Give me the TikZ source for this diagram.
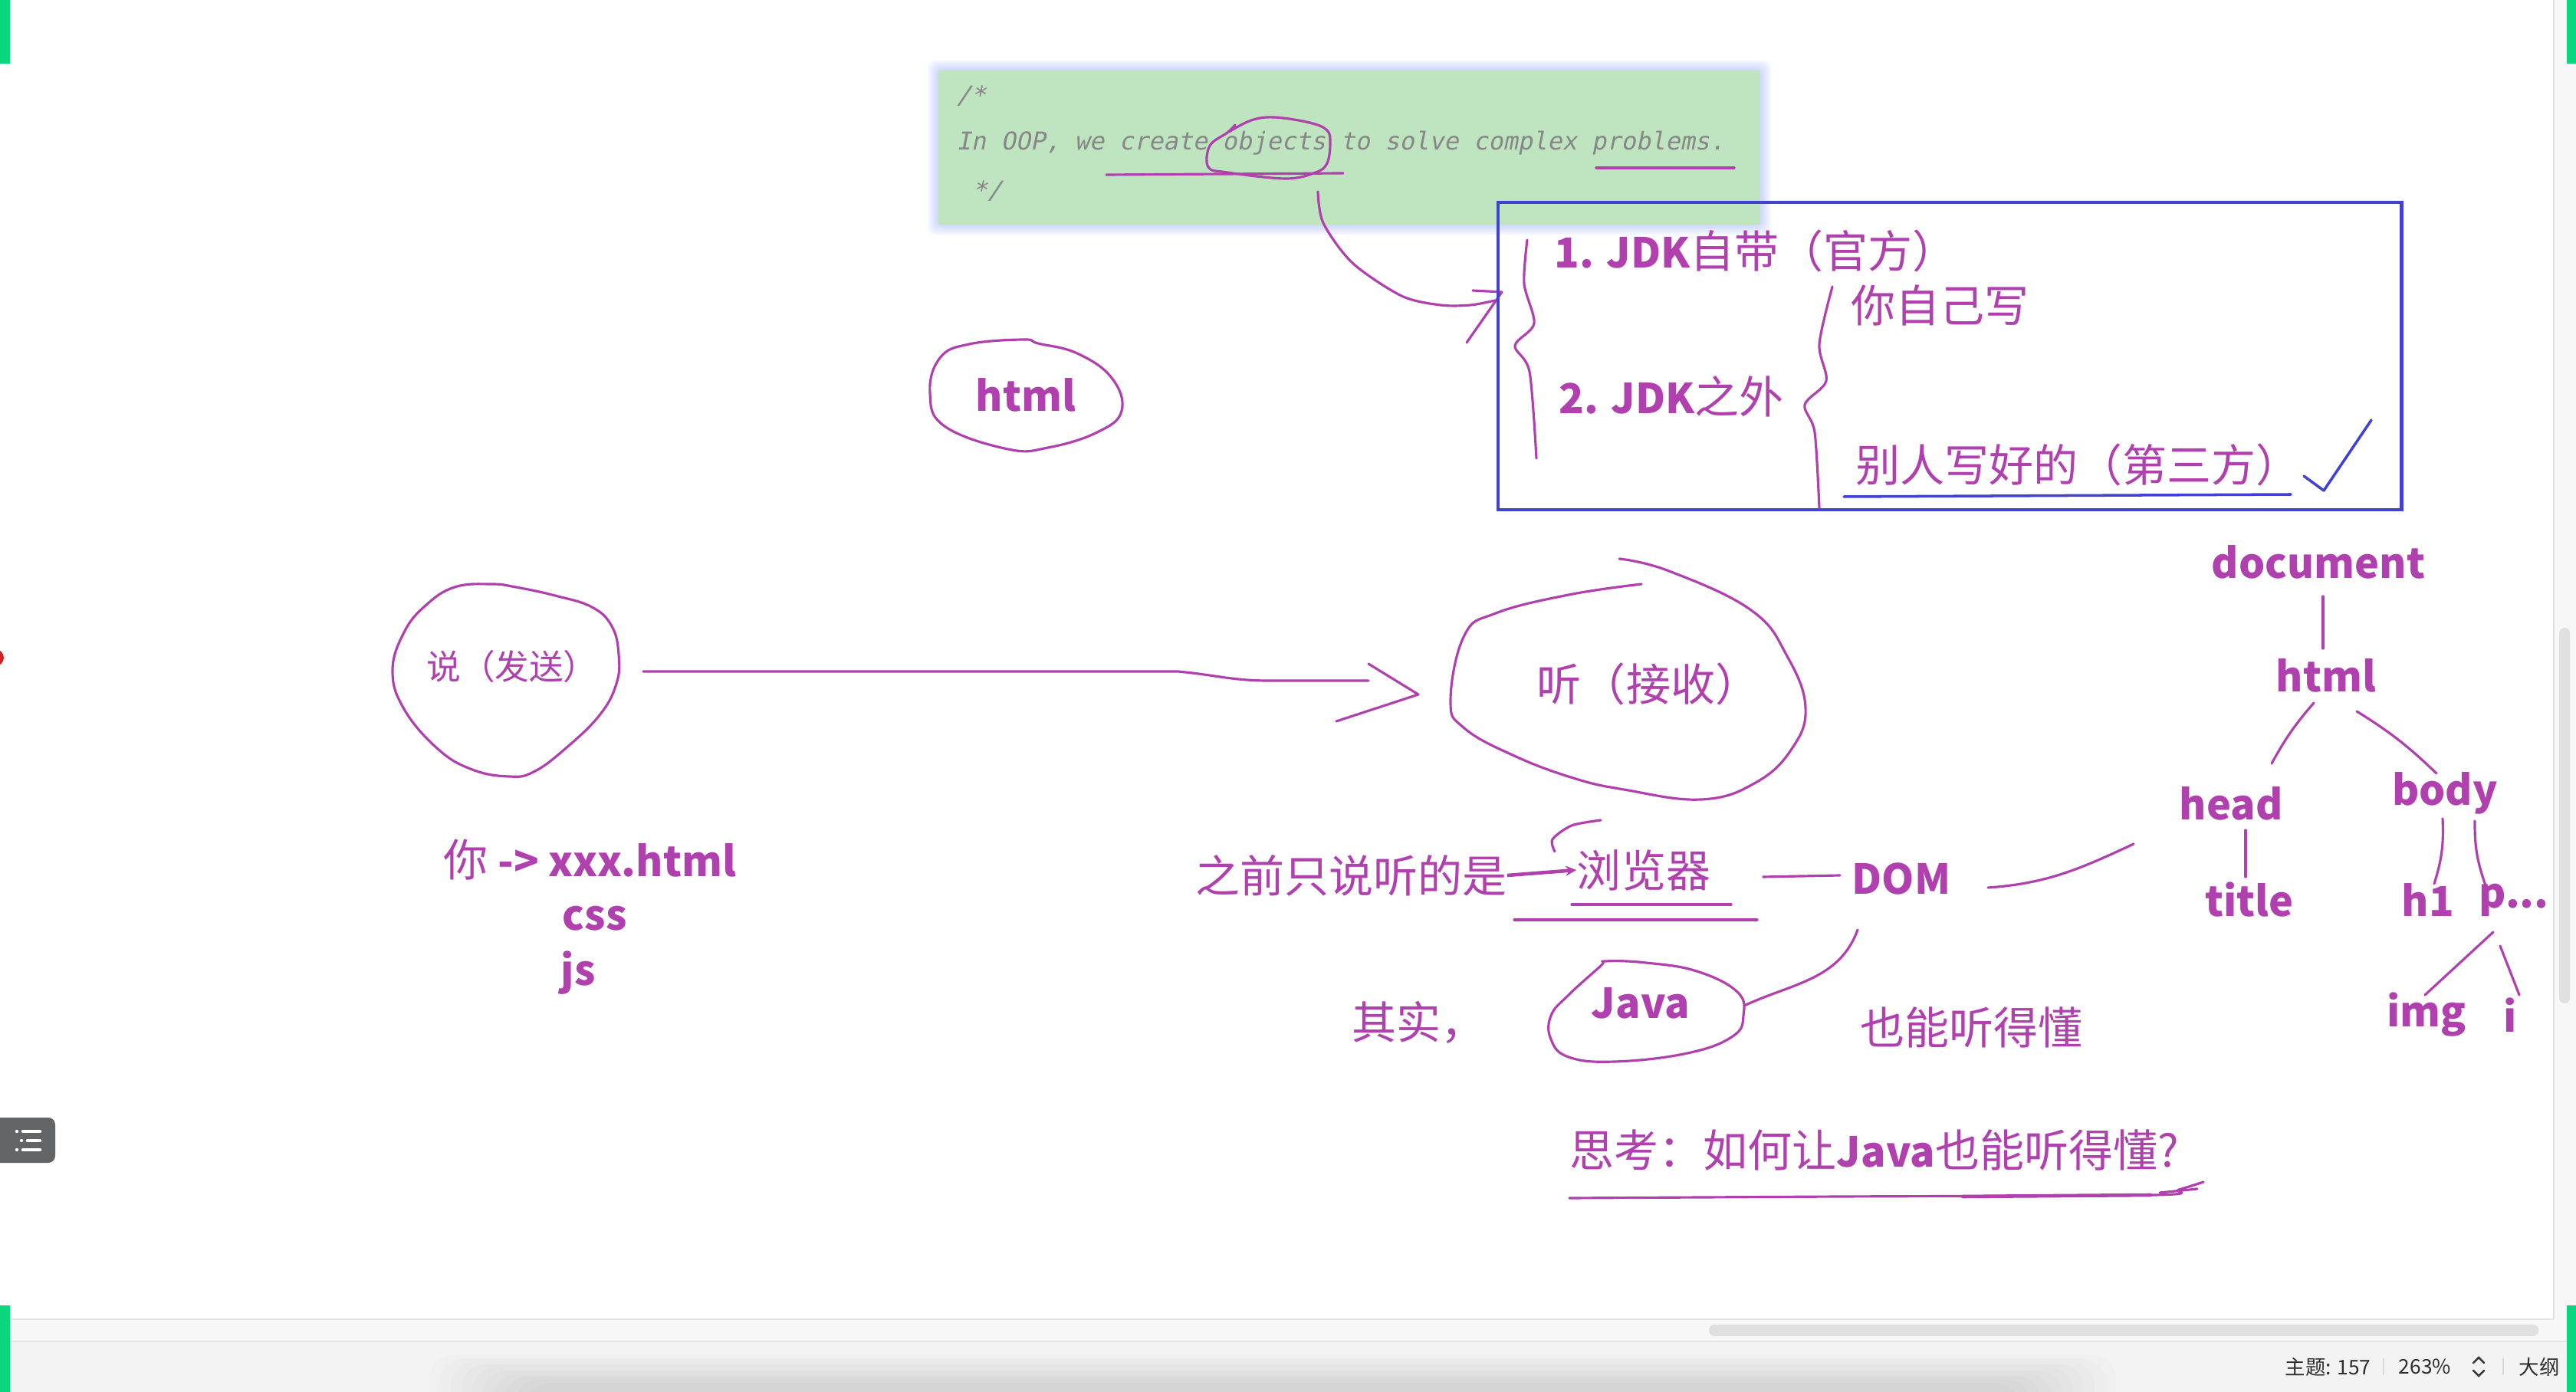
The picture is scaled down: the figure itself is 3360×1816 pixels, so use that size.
\documentclass[tikz,border=0pt]{standalone}
\usepackage{fontspec}
\setmainfont{Noto Sans CJK SC}
\newfontfamily\codefont[FakeSlant=0.2]{DejaVu Sans Mono}
\usetikzlibrary{calc,arrows.meta}
\definecolor{inkpurple}{RGB}{176,64,174}
\definecolor{inkblue}{RGB}{66,66,210}
\definecolor{notegreen}{RGB}{190,229,191}
\definecolor{glowblue}{RGB}{110,140,255}
\definecolor{codegray}{RGB}{135,135,135}
\definecolor{barbg}{RGB}{243,243,243}
\definecolor{appgreen}{RGB}{10,214,125}
\definecolor{btngray}{RGB}{99,100,102}
\newcommand\lat[1]{{\fontsize{15.3}{20}\selectfont\bfseries #1}}
\tikzset{
  ink/.style={draw=inkpurple,line width=0.9pt,line cap=round,line join=round},
  word/.style={text=inkpurple,inner sep=0pt,font=\fontsize{16.5}{20}\selectfont},
  tag/.style={word,font=\fontsize{15.3}{20}\selectfont\bfseries},
  code/.style={text=codegray,inner sep=0pt,anchor=west,font=\codefont\fontsize{9.1}{11}\selectfont},
  status/.style={text=black!82,inner sep=0pt,anchor=west,font=\fontsize{7.5}{9}\selectfont},
}
\begin{document}
\begin{tikzpicture}[x=0.01cm,y=-0.01cm]
\useasboundingbox (0,0) rectangle (3360,1816);
\fill[white] (0,0) rectangle (3360,1816);

\fill[black!3] (3331,0) rectangle (3360,1721);
\draw[black!12,line width=0.5pt] (3331,0) -- (3331,1721);
\fill[black!12,rounded corners=0.07cm] (3338,819) rectangle (3352,1309);
\fill[black!3] (0,1721) rectangle (3360,1750);
\fill[black!12,rounded corners=0.07cm] (2229,1728) rectangle (3311,1743);
\fill[barbg] (0,1750) rectangle (3360,1816);
\foreach \k in {0,...,9}
  \fill[black,opacity=0.012,rounded corners=0.3cm] ({560+14*\k},{1768+4*\k}) rectangle ({2760-14*\k},1840);
\draw[black!10,line width=0.6pt] (0,1721) -- (3331,1721) (0,1750) -- (3360,1750);
\fill[appgreen] (0,0) rectangle (13,83) (3348,0) rectangle (3360,83) (0,1703) rectangle (13,1816) (3348,1703) rectangle (3360,1816);
\fill[red!75!black!85] (-6,858) circle (0.11cm);
\fill[btngray,rounded corners=0.09cm] (-20,1458) rectangle (72,1517);
\foreach \y/\x in {1476/22,1488/28,1500/22}{
  \fill[white] (\x,\y) circle (0.022cm);
  \draw[white,line width=1.3pt,line cap=round] ({\x+8},\y) -- (52,\y);
}
\node[status] (topic) at (2980,1783) {主题: 157};
\node[status] (zoomlv) at (3128,1783) {263\%};
\node[status] (outline) at (3285,1783) {大纲};
\draw[black!15,line width=0.8pt] (3109,1772) -- (3109,1794) (3265,1772) -- (3265,1794);
\draw[black!80,line width=0.7pt,line cap=round] (3226,1778) -- (3233,1771) -- (3240,1778) (3226,1788) -- (3233,1795) -- (3240,1788);

\foreach \g in {2,4,...,14}
  \fill[glowblue,opacity=0.05,rounded corners=0.1cm] ({1224-\g},{92-\g}) rectangle ({2296+\g},{293+\g});
\fill[notegreen] (1224,92) rectangle (2296,293);
\node[code] (cmtA) at (1247,125) {/*};
\node[code] (cmtB) at (1247,187) {In OOP, we create objects to solve complex problems.};
\node[code] (cmtC) at (1268,249) {*/};
\draw[ink] (1443,228) -- (1752,226);
\draw[ink] (2082,219) -- (2262,219);
\draw[ink] plot[smooth,tension=0.6] coordinates {(1611,163) (1601,173) (1578,190) (1576,218) (1601,225) (1677,233) (1716,225) (1731,213) (1735,187) (1731,170) (1708,160) (1662,153) (1632,157) (1603,172)};
\coordinate (objTail) at (1719,250);
\coordinate (braceTip) at (1959,381);
\draw[ink] plot[smooth] coordinates {(objTail) (1726,291) (1764,343) (1828,386) (1879,398) (1918,398) (1950,392)};
\draw[ink] ($(braceTip)+(-38,-2)$) -- (braceTip) -- ($(braceTip)+(-46,66)$);

\draw[inkblue,line width=1.4pt] (1954,264) rectangle (3132,665);
\draw[ink] plot[smooth] coordinates {(1992,313) (1988,370) (2001,422) (1976,451) (1995,485) (2004,598)};
\draw[ink] plot[smooth] coordinates {(2390,374) (2373,449) (2382,497) (2354,528) (2367,564) (2373,663)};
\node[word,anchor=west] (jdkA) at (2027,327) {\lat{1. JDK}自带（官方）};
\node[word,anchor=west] (jdkB) at (2033,517) {\lat{2. JDK}之外};
\node[word,anchor=west] (self) at (2414,398) {你自己写};
\node[word,anchor=west] (third) at (2420,606) {别人写好的（第三方）};
\draw[inkblue,line width=1pt,line cap=round] (2405,648) -- (2988,645);
\draw[inkblue,line width=1pt,line cap=round,line join=round] (3005,621) -- (3031,640) -- (3093,548);

\draw[ink] plot[smooth cycle,tension=0.7] coordinates {(1335,443) (1264,449) (1226,467) (1213,513) (1232,556) (1315,586) (1367,584) (1431,564) (1463,536) (1450,493) (1405,461) (1354,448)};
\node[tag] (page) at (1338,515) {html};

\draw[ink] plot[smooth cycle,tension=0.7] coordinates {(641,762) (593,766) (555,790) (527,825) (512,875) (527,925) (571,977) (616,1004) (664,1013) (696,1007) (737,977) (782,933) (804,892) (807,854) (798,817) (772,792) (724,777) (673,766)};
\node[word,font=\fontsize{12.7}{15}\selectfont] (speak) at (668,870) {说（发送）};

\draw[ink] plot[smooth,tension=0.7] coordinates {(2112,729) (2177,745) (2284,796) (2331,856) (2355,923) (2337,977) (2290,1021) (2219,1043) (2118,1030) (2052,1015) (1975,986) (1910,950) (1892,914) (1910,829) (1951,800) (2046,776) (2141,762)};
\node[word] (listen) at (2150,892) {听（接收）};

\draw[ink] ($(speak)+(171,6)$) -- (1536,876) to[out=-5,in=180] (1654,888) -- ($(listen)+(-365,-4)$);
\draw[ink] ($(listen)+(-365,-26)$) -- ($(listen)+(-300,14)$) -- ($(listen)+(-407,49)$);

\node[word,anchor=west] (you) at (578,1122) {你 \lat{-> xxx.html}};
\node[tag,anchor=west] (css) at (733,1198) {css};
\node[tag,anchor=west] (js) at (731,1269) {js};

\node[word,anchor=east] (said) at (1966,1142) {之前只说听的是};
\node[word] (browser) at (2144,1135) {浏览器};
\draw[inkpurple,line width=1.3pt,-{Stealth[length=0.14cm,width=0.13cm]}] (said.east) -- (browser.west);
\draw[ink] plot[smooth] coordinates {(2088,1070) (2050,1077) (2025,1095) (2028,1111)};
\draw[ink] (2050,1180) -- (2258,1180);
\draw[ink] (1975,1200) -- (2292,1200);
\node[tag] (dom) at (2480,1146) {DOM};
\draw[ink] ($(browser.east)+(68,9)$) -- ($(dom.west)+(-15,-4)$);

\draw[ink] plot[smooth cycle,tension=0.7] coordinates {(2094,1254) (2147,1256) (2213,1267) (2266,1294) (2274,1325) (2260,1352) (2201,1374) (2106,1385) (2046,1379) (2023,1356) (2023,1325) (2046,1298) (2088,1260)};
\node[tag] (java) at (2140,1309) {Java};
\node[word,anchor=west] (truth) at (1763,1334) {其实，};
\node[word,anchor=west] (also) at (2426,1340) {也能听得懂};
\draw[ink] ($(java)+(135,3)$) to[out=25,in=250] ($(dom)+(-57,67)$);

\node[tag] (doc) at (3024,733) {document};
\node[tag] (root) at (3034,881) {html};
\node[tag] (head) at (2910,1048) {head};
\node[tag] (body) at (3189,1035) {body};
\node[tag] (title) at (2934,1174) {title};
\node[tag] (hone) at (3167,1174) {h1};
\node[tag] (pdots) at (3279,1174) {p...};
\node[tag] (img) at (3165,1324) {img};
\node[tag] (ital) at (3274,1324) {i};
\draw[ink] ($(doc)+(6,45)$) -- ($(root)+(-4,-35)$);
\draw[ink] ($(root)+(-16,36)$) to[bend right=6] ($(head)+(53,-52)$);
\draw[ink] ($(root)+(40,47)$) to[bend left=6] ($(body)+(-11,-26)$);
\draw[ink] ($(head)+(19,35)$) -- ($(title)+(-5,-30)$);
\draw[ink] ($(body)+(-3,33)$) to[bend left=10] ($(hone)+(8,-21)$);
\draw[ink] ($(body)+(39,36)$) to[bend right=10] ($(pdots)+(-37,-19)$);
\draw[ink] ($(pdots)+(-27,42)$) -- ($(img)+(-2,-26)$);
\draw[ink] ($(pdots)+(-18,60)$) -- ($(ital)+(12,-26)$);
\draw[ink] ($(dom)+(113,12)$) to[out=4,in=205] ($(head)+(-127,53)$);

\node[word,anchor=west] (think) at (2047,1500) {思考：如何让\lat{Java}也能听得懂?};
\draw[ink] plot[smooth] coordinates {(2047,1563) (2400,1561) (2810,1559) (2842,1552) (2874,1542)};
\draw[ink,line width=1.3pt] (2560,1561) -- (2805,1559);
\draw[ink] (2817,1556) -- (2866,1551);
\end{tikzpicture}
\end{document}
